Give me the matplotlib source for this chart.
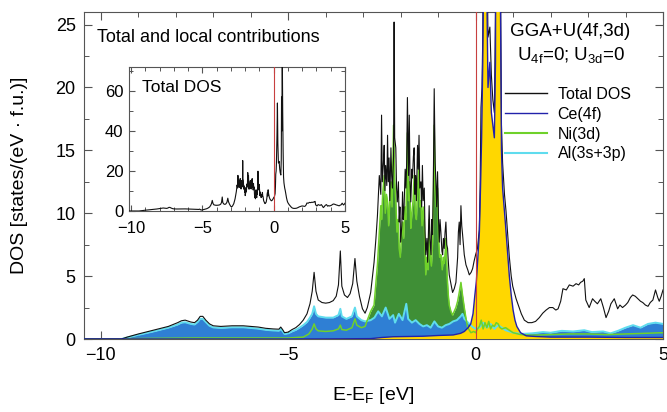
import matplotlib
matplotlib.use("Agg")
import matplotlib.pyplot as plt
from matplotlib.lines import Line2D
from matplotlib.ticker import MultipleLocator

plt.rcParams['font.family'] = ['Liberation Sans', 'DejaVu Sans']
plt.rcParams['mathtext.fontset'] = 'custom'
plt.rcParams['mathtext.rm'] = 'Liberation Sans'
plt.rcParams['mathtext.it'] = 'Liberation Sans'

# ---------------- data ----------------
total_e = [-10.45, -9.45, -9.3, -9.0, -8.6, -8.2, -7.95, -7.85, -7.75, -7.6, -7.5, -7.42, -7.35, -7.28, -7.2,
           -7.1, -7.0, -6.8, -6.5, -6.2, -6.0, -5.8, -5.6, -5.4, -5.25, -5.2, -5.15, -5.1, -5.0, -4.9, -4.8,
           -4.7, -4.6, -4.5, -4.42, -4.36, -4.31, -4.26, -4.2, -4.1, -4.0, -3.9, -3.8, -3.72, -3.66, -3.61,
           -3.57, -3.5, -3.42, -3.35, -3.28, -3.22, -3.17, -3.1, -3.02, -2.95, -2.89, -2.8, -2.71, -2.66,
           -2.62, -2.57, -2.53, -2.51, -2.49, -2.46, -2.44, -2.42, -2.40, -2.37, -2.35, -2.33, -2.31, -2.29,
           -2.26, -2.24, -2.22, -2.19, -2.175, -2.16, -2.13, -2.11, -2.09, -2.06, -2.04, -2.02, -2.00, -1.97,
           -1.95, -1.93, -1.91, -1.88, -1.86, -1.84, -1.82, -1.79, -1.77, -1.75, -1.73, -1.70, -1.685, -1.66,
           -1.64, -1.62, -1.60, -1.58, -1.55, -1.53, -1.51, -1.49, -1.46, -1.44, -1.42, -1.40, -1.37, -1.35,
           -1.33, -1.30, -1.28, -1.26, -1.24, -1.22, -1.19, -1.17, -1.15, -1.13, -1.105, -1.08, -1.06, -1.04,
           -1.016, -0.99, -0.97, -0.95, -0.927, -0.90, -0.88, -0.86, -0.838, -0.815, -0.793, -0.77, -0.749,
           -0.725, -0.704, -0.66, -0.615, -0.57, -0.526, -0.48, -0.46, -0.437, -0.415, -0.392, -0.37, -0.348,
           -0.303, -0.258, -0.21, -0.169, -0.12, -0.08, -0.04, 0.0, 0.05, 0.098, 0.12, 0.143, 0.17, 0.19,
           0.23, 0.26, 0.29, 0.33, 0.38, 0.42, 0.46, 0.50, 0.53, 0.55, 0.57, 0.60, 0.63, 0.66, 0.69, 0.72,
           0.77, 0.81, 0.86, 0.90, 0.95, 0.99, 1.08, 1.15, 1.22, 1.30, 1.40, 1.50, 1.60, 1.70, 1.79, 1.88,
           1.97, 2.06, 2.14, 2.2, 2.27, 2.33, 2.42, 2.5, 2.6, 2.68, 2.75, 2.8, 2.86, 2.9, 2.94, 3.03, 3.12,
           3.18, 3.25, 3.34, 3.41, 3.48, 3.55, 3.61, 3.7, 3.79, 3.85, 3.92, 4.0, 4.06, 4.13, 4.19, 4.26, 4.33,
           4.4, 4.46, 4.53, 4.6, 4.66, 4.73, 4.8, 4.86, 4.9, 4.95, 5.0]
total_dos = [0, 0, 0.15, 0.4, 0.7, 1.0, 1.3, 1.45, 1.5, 1.35, 1.3, 1.5, 1.8, 1.8, 1.5,
             1.2, 1.05, 1.0, 1.05, 1.05, 1.0, 0.95, 0.85, 0.8, 0.78, 0.95, 0.75, 0.5, 0.55, 0.75, 0.9,
             1.15, 1.5, 2.0, 2.8, 3.8, 5.3, 3.8, 3.1, 2.9, 2.85, 2.9, 3.05, 3.4, 4.3, 7.0,
             4.2, 3.5, 3.3, 3.6, 4.4, 6.4, 4.6, 3.4, 2.4, 2.05, 2.5, 3.7, 6.1, 8.0,
             9.8, 13.0, 11.5, 17.8, 12.5, 14.0, 15.4, 11.8, 13.8, 12.2, 16.2, 12.5, 14.4, 11.0,
             15.2, 13.0, 12.0, 14.5, 25.2, 16.0, 15.2, 12.0, 10.9, 12.5, 9.3, 10.5, 7.7, 9.0,
             11.7, 9.5, 10.4, 13.5, 12.0, 14.0, 19.2, 13.0, 17.8, 12.5, 10.9, 13.5, 12.8, 14.5,
             15.2, 11.5, 13.0, 11.0, 15.4, 13.5, 16.2, 12.0, 12.5, 10.5, 13.8, 11.0, 12.0, 8.5,
             6.7, 8.0, 6.1, 8.5, 10.6, 8.0, 6.7, 9.5, 8.3, 12.0, 19.9, 14.0, 12.5, 10.5,
             13.3, 9.5, 7.7, 9.5, 8.5, 7.0, 6.7, 8.0, 7.2, 8.5, 9.3, 7.5, 7.2,
             6.0, 5.1, 4.4, 3.7, 4.0, 4.5, 6.5, 8.5, 9.3, 7.5, 10.6, 9.0, 8.3,
             6.7, 5.9, 5.5, 5.1, 5.3, 5.6, 6.2, 6.7, 7.2, 8.7, 12.0, 18.4, 20.0, 24.0,
             38.0, 54.0, 34.0, 24.0, 24.8, 21.0, 19.0, 18.0, 26.0, 57.0, 40.0, 80.0, 50.0, 30.0, 17.0, 14.0,
             11.5, 10.2, 8.2, 6.5, 5.0, 4.2, 3.2, 2.6, 2.0, 1.5, 1.3, 1.3, 1.4, 1.7, 2.05, 2.3,
             2.5, 2.5, 2.3, 2.4, 3.0, 4.0, 3.9, 4.3, 4.2, 4.4, 4.3, 4.5, 4.6, 4.8, 3.1, 2.5, 3.2,
             3.0, 2.8, 3.2, 2.5, 1.7, 2.2, 2.8, 3.2, 2.4, 2.7, 2.5, 2.7, 2.9, 3.3, 3.5, 3.4, 3.2,
             3.0, 2.9, 2.7, 2.6, 2.9, 3.1, 3.9, 3.3, 3.0, 3.4, 3.9]

ce_e = [-10.45, -4.5, -2.8, -2.5, -2.2, -1.8, -1.4, -1.0, -0.6, -0.4, -0.3, -0.2, -0.13, -0.07, -0.02,
        0.02, 0.06, 0.1, 0.13, 0.16, 0.19, 0.23, 0.26, 0.29, 0.33, 0.38, 0.42, 0.46, 0.5, 0.53, 0.55,
        0.57, 0.6, 0.63, 0.66, 0.69, 0.72, 0.76, 0.8, 0.85, 0.9, 0.95, 1.0, 1.05, 1.1, 1.2, 1.35, 1.6,
        2.0, 3.0, 4.0, 5.0]
ce_dos = [0, 0, 0.03, 0.12, 0.18, 0.2, 0.22, 0.28, 0.32, 0.45, 0.6, 0.9, 1.2, 2.0, 3.5,
          4.6, 6.5, 8.5, 12, 16, 22, 35, 50, 30, 20, 22, 18, 17, 16, 22, 52,
          38, 75, 46, 28, 15, 12, 10.5, 9, 7, 5, 3.5, 2.3, 1.5, 1.0, 0.5, 0.25, 0.2,
          0.15, 0.15, 0.12, 0.12]

ni_e = [-10.45, -9.4, -9.2, -7.5, -5.0, -4.6, -4.45, -4.36, -4.31, -4.26, -4.2, -4.0, -3.8, -3.66, -3.61,
        -3.57, -3.45, -3.3, -3.22, -3.17, -3.05, -2.95, -2.89, -2.8, -2.71, -2.66, -2.62, -2.57, -2.53,
        -2.51, -2.48, -2.44, -2.41, -2.38, -2.35, -2.32, -2.29, -2.26, -2.23, -2.19, -2.16, -2.13, -2.10,
        -2.07, -2.04, -2.01, -1.98, -1.95, -1.92, -1.89, -1.86, -1.82, -1.79, -1.76, -1.73, -1.70, -1.67,
        -1.64, -1.61, -1.58, -1.55, -1.52, -1.49, -1.46, -1.43, -1.40, -1.37, -1.33, -1.30, -1.27, -1.24,
        -1.21, -1.18, -1.15, -1.13, -1.105, -1.08, -1.05, -1.016, -0.99, -0.96, -0.927, -0.89, -0.86,
        -0.838, -0.81, -0.793, -0.76, -0.73, -0.704, -0.66, -0.615, -0.57, -0.526, -0.48, -0.437, -0.392,
        -0.35, -0.303, -0.25, -0.21, -0.125, -0.05, 0.0, 0.05, 0.1, 0.15, 0.2, 0.25, 0.3, 0.35, 0.4, 0.45,
        0.5, 0.55, 0.6, 0.65, 0.7, 0.8, 0.9, 1.0, 1.2, 1.5, 2.0, 2.5, 3.0, 3.5, 4.0, 4.5, 5.0]
ni_dos = [0, 0, 0.03, 0.08, 0.08, 0.15, 0.4, 0.8, 1.2, 0.8, 0.65, 0.6, 0.65, 0.8, 1.1,
          0.75, 0.7, 0.9, 1.6, 1.1, 0.9, 1.0, 1.5, 2.2, 2.7, 4.5, 5.9, 8.5, 10.6,
          9.5, 11.5, 13.0, 10.0, 11.5, 10.9, 9.0, 11.0, 12.5, 10.5, 17.0, 12.5, 11.0, 8.5,
          9.5, 7.2, 6.5, 8.0, 9.3, 8.0, 10.5, 9.5, 16.4, 11.0, 12.5, 8.8, 10.0, 11.0,
          13.0, 10.0, 9.5, 12.0, 13.5, 10.5, 11.0, 9.0, 10.5, 9.3, 5.1, 6.5, 5.5, 9.5,
          6.5, 5.8, 7.5, 10.0, 17.0, 12.0, 10.5, 12.0, 8.0, 6.5, 6.7, 5.5, 6.5,
          6.0, 7.0, 8.0, 5.0, 3.5, 2.7, 2.2, 1.9, 2.2, 2.5, 3.0, 3.7, 4.5,
          3.5, 2.5, 1.5, 0.9, 0.5, 0.6, 0.5, 0.8, 1.0, 1.5, 0.8, 1.3, 0.9, 1.4, 0.8, 1.1,
          1.0, 1.3, 1.2, 0.9, 0.8, 0.9, 0.7, 0.5, 0.35, 0.3, 0.35, 0.4, 0.4, 0.35, 0.4, 0.45, 0.5]

al_e = [-10.45, -9.45, -9.3, -9.0, -8.6, -8.2, -7.95, -7.85, -7.75, -7.6, -7.5, -7.42, -7.35, -7.28, -7.2,
        -7.1, -7.0, -6.8, -6.5, -6.2, -6.0, -5.8, -5.6, -5.4, -5.25, -5.2, -5.15, -5.1, -5.0, -4.9, -4.8,
        -4.7, -4.6, -4.5, -4.42, -4.36, -4.31, -4.26, -4.2, -4.0, -3.8, -3.66, -3.61, -3.57, -3.45, -3.3,
        -3.22, -3.17, -3.05, -2.95, -2.8, -2.7, -2.6, -2.5, -2.4, -2.3, -2.2, -2.15, -2.05, -1.95, -1.85,
        -1.8, -1.7, -1.6, -1.5, -1.4, -1.3, -1.2, -1.1, -1.0, -0.9, -0.8, -0.7, -0.6, -0.5, -0.4, -0.35,
        -0.3, -0.2, -0.1, 0.0, 0.1, 0.2, 0.3, 0.4, 0.5, 0.6, 0.7, 0.8, 1.0, 1.2, 1.5, 1.8, 2.0, 2.3, 2.6,
        2.9, 3.1, 3.4, 3.6, 3.8, 4.0, 4.2, 4.4, 4.6, 4.8, 5.0]
al_dos = [0, 0, 0.12, 0.33, 0.6, 0.9, 1.15, 1.3, 1.33, 1.2, 1.15, 1.35, 1.6, 1.6, 1.35,
          1.05, 0.92, 0.88, 0.93, 0.93, 0.88, 0.82, 0.73, 0.68, 0.66, 0.8, 0.62, 0.4, 0.45, 0.6, 0.72,
          0.9, 1.1, 1.35, 1.7, 2.0, 2.6, 2.0, 1.8, 1.7, 1.7, 1.9, 2.4, 1.8, 1.6, 1.8,
          2.5, 1.8, 1.5, 1.4, 1.5, 1.7, 2.2, 1.8, 2.5, 1.6, 1.9, 1.3, 2.0, 1.5, 2.8,
          1.6, 1.3, 1.5, 1.2, 1.0, 1.1, 0.9, 1.4, 1.0, 0.9, 1.1, 1.2, 1.4, 1.5, 1.8, 2.0,
          1.6, 1.3, 1.0, 0.8, 0.9, 1.3, 0.9, 1.2, 0.8, 1.1, 0.9, 0.7, 0.5, 0.4, 0.45, 0.55, 0.5, 0.65, 0.6,
          0.7, 0.55, 0.6, 0.45, 0.65, 0.9, 1.1, 0.9, 1.2, 1.3, 1.2]

legend_labels = ["Total DOS", "Ce(4f)", "Ni(3d)", "Al(3s+3p)"]

# ---------------- styles ----------------
c_total = "#111111"
c_ce_line = "#2222aa"
c_ce_fill = "#ffd700"
c_ni_line = "#6fd12a"
c_ni_fill = "#3f8f36"
c_al_line = "#5fdcee"
c_al_fill = "#2f7fd4"
c_ef = "#c84040"
c_spine = "#555555"

W, H = 667, 412
fig = plt.figure(figsize=(W / 100, H / 100), dpi=100)

def fx(px):
    return px / W

def fy(py):
    return 1 - py / H

ax = fig.add_axes([fx(84), fy(339), fx(663) - fx(84), fy(12) - fy(339)])

ax.fill_between(ni_e, ni_dos, 0, color=c_ni_fill, lw=0, zorder=1)
ax.fill_between(al_e, al_dos, 0, color=c_al_fill, lw=0, zorder=2)
ax.fill_between(ce_e, ce_dos, 0, color=c_ce_fill, lw=0, zorder=3)
ax.plot(al_e, al_dos, color=c_al_line, lw=1.4, zorder=4)
ax.plot(ni_e, ni_dos, color=c_ni_line, lw=1.1, zorder=5)
ax.plot(total_e, total_dos, color=c_total, lw=0.8, zorder=6)
ax.plot(ce_e, ce_dos, color=c_ce_line, lw=1.0, zorder=7)
ax.axvline(0, color=c_ef, lw=0.8, zorder=8)

ax.set_xlim(-10.45, 5.0)
ax.set_ylim(0, 26)
ax.xaxis.set_major_locator(MultipleLocator(5))
ax.xaxis.set_minor_locator(MultipleLocator(1))
ax.yaxis.set_major_locator(MultipleLocator(5))
ax.yaxis.set_minor_locator(MultipleLocator(2.5))
ax.tick_params(which='both', direction='in', top=True, right=True, color=c_spine)
ax.tick_params(which='major', length=6, width=0.8, labelsize=13, pad=6)
ax.tick_params(which='minor', length=3.5, width=0.7)
for s in ax.spines.values():
    s.set_color(c_spine)
    s.set_linewidth(0.8)

ax.set_xlabel("E-E$_{\\mathrm{F}}$ [eV]", fontsize=14)
ax.xaxis.set_label_coords(0.5, -0.14)
ax.xaxis.label.set_va('top')
ax.set_ylabel("DOS [states/(eV · f.u.)]", fontsize=14)
ax.yaxis.set_label_coords(-0.097, 0.5)

fig.text(fx(97), fy(37), "Total and local contributions", fontsize=13, ha='left', va='center')
fig.text(fx(570), fy(32), "GGA+U(4f,3d)", fontsize=13.5, ha='center', va='center')
fig.text(fx(571), fy(55), "U$_{\\mathrm{4f}}$=0; U$_{\\mathrm{3d}}$=0", fontsize=13.5, ha='center', va='center')

handles = [Line2D([], [], color=c_total, lw=1.0),
           Line2D([], [], color=c_ce_line, lw=1.0),
           Line2D([], [], color=c_ni_line, lw=1.5),
           Line2D([], [], color=c_al_line, lw=1.5)]
leg = ax.legend(handles, legend_labels, loc='upper left', bbox_to_anchor=(fx(505), fy(87)),
                bbox_transform=fig.transFigure, frameon=False, fontsize=11.5,
                handlelength=2.6, handletextpad=0.7, labelspacing=0.3,
                borderpad=0, borderaxespad=0)
leg.set_zorder(20)

# ---------------- inset ----------------
axi = fig.add_axes([fx(129), fy(211), fx(345) - fx(129), fy(67) - fy(211)])
axi.plot(total_e, total_dos, color=c_total, lw=0.8, zorder=3)
axi.axvline(0, color=c_ef, lw=0.8, zorder=4)
axi.set_xlim(-10.15, 5.0)
axi.set_ylim(0, 72)
axi.xaxis.set_major_locator(MultipleLocator(5))
axi.xaxis.set_minor_locator(MultipleLocator(1))
axi.yaxis.set_major_locator(MultipleLocator(20))
axi.yaxis.set_minor_locator(MultipleLocator(10))
axi.tick_params(which='both', direction='in', top=True, right=True, color=c_spine)
axi.tick_params(which='major', length=4.5, width=0.8, labelsize=12)
axi.tick_params(axis='x', which='major', pad=7)
axi.tick_params(axis='y', which='major', pad=4)
axi.tick_params(which='minor', length=3, width=0.7)
for s in axi.spines.values():
    s.set_color(c_spine)
    s.set_linewidth(0.8)
axi.text(0.06, 0.86, "Total DOS", transform=axi.transAxes, fontsize=12.5, ha='left', va='center')

fig.savefig("out.png", dpi=100)
